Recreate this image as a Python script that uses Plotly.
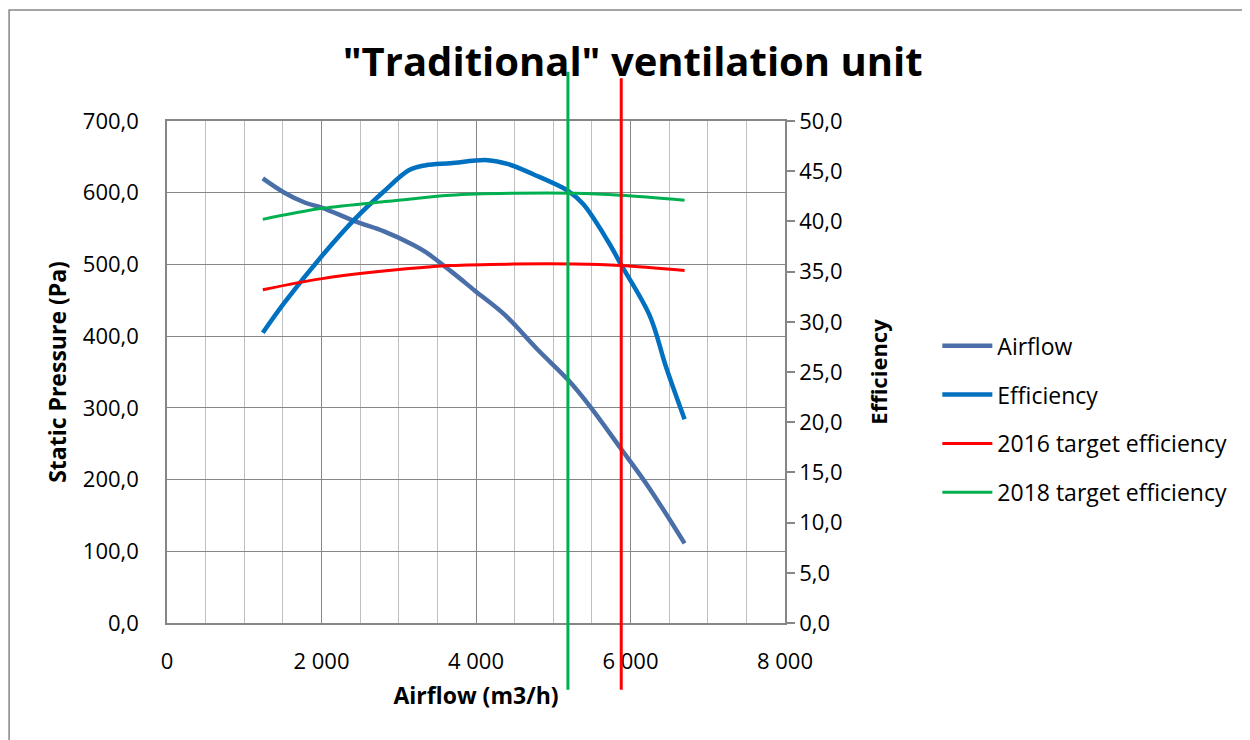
import plotly.graph_objects as go

# ---- data ----
airflow_x = [1240, 1520, 1790, 2010, 2440, 2810, 3190, 3350, 3670, 3990, 4370, 4800, 5200, 5490, 5870, 6250, 6700]
airflow_pressure = [620, 600, 586, 579, 560, 546, 527, 517, 491, 463, 430, 381, 338, 300, 244, 187, 111]

eff_x = [1240, 1520, 2010, 2440, 2810, 3130, 3350, 3670, 4150, 4420, 4740, 5200, 5390, 5710, 5870, 6250, 6460, 6700]
eff_values = [28.9, 31.9, 36.6, 40.3, 43.0, 45.1, 45.6, 45.8, 46.1, 45.7, 44.7, 43.0, 41.7, 38.0, 35.8, 30.6, 25.5, 20.3]

target_x = [1240, 2010, 2870, 3670, 4480, 5280, 5870, 6700]
target_2016 = [33.2, 34.3, 35.1, 35.6, 35.75, 35.75, 35.6, 35.1]
target_2018 = [40.2, 41.3, 42.0, 42.6, 42.8, 42.8, 42.6, 42.1]

vline_2018_x = 5190
vline_2016_x = 5880

x_ticks = [0, 2000, 4000, 6000, 8000]

FONT = "Open Sans"
GRID_DARK = "#868686"
GRID_LIGHT = "#bfbfbf"

fig = go.Figure()
fig.add_trace(go.Scatter(x=airflow_x, y=airflow_pressure, name="Airflow", mode="lines",
                         line=dict(color="#4a6fa8", width=4.5, shape="spline"),
                         legendgroup="a", yaxis="y"))
fig.add_trace(go.Scatter(x=eff_x, y=eff_values, name="Efficiency", mode="lines",
                         line=dict(color="#0070c0", width=4.5, shape="spline"),
                         legendgroup="b", yaxis="y2"))
fig.add_trace(go.Scatter(x=target_x, y=target_2016, name="2016 target efficiency", mode="lines",
                         line=dict(color="#ff0000", width=3, shape="spline"),
                         legendgroup="c", yaxis="y2"))
fig.add_trace(go.Scatter(x=target_x, y=target_2018, name="2018 target efficiency", mode="lines",
                         line=dict(color="#00b050", width=3, shape="spline"),
                         legendgroup="d", yaxis="y2"))

shapes = [
    dict(type="line", xref="x", yref="paper", x0=vline_2018_x, x1=vline_2018_x, y0=-0.133, y1=1.098,
         line=dict(color="#00b050", width=3)),
    dict(type="line", xref="x", yref="paper", x0=vline_2016_x, x1=vline_2016_x, y0=-0.133, y1=1.085,
         line=dict(color="#ff0000", width=3)),
    dict(type="rect", xref="paper", yref="paper", x0=-0.2555, x1=1.9, y0=-0.3, y1=1.2211,
         line=dict(color=GRID_DARK, width=1.5), layer="below"),
]

fig.update_layout(
    width=1242, height=732,
    margin=dict(l=159, r=465, t=113, b=117),
    paper_bgcolor="white", plot_bgcolor="white",
    separators=", ",
    font=dict(family=FONT, size=22, color="black"),
    title=dict(text='"Traditional" ventilation unit', x=0.503, xref="container", xanchor="center",
               y=0.926, yref="container", yanchor="middle",
               font=dict(family=FONT, size=40, color="black", weight="bold")),
    xaxis=dict(range=[0, 8000], tickvals=x_ticks, tickformat=",d",
               showgrid=True, gridcolor=GRID_DARK, gridwidth=1.3,
               minor=dict(dtick=500, showgrid=True, gridcolor=GRID_LIGHT, gridwidth=1.3),
               showline=True, linecolor=GRID_DARK, linewidth=1.5, mirror=True,
               ticks="outside", ticklen=18, tickcolor="rgba(0,0,0,0)",
               zeroline=False,
               title=dict(text="Airflow (m3/h)", standoff=14,
                          font=dict(family=FONT, size=23, weight="bold"))),
    yaxis=dict(range=[0, 700], dtick=100, tickformat=".1f",
               showgrid=True, gridcolor=GRID_DARK, gridwidth=1.3,
               showline=True, linecolor=GRID_DARK, linewidth=1.5,
               ticks="outside", ticklen=22, tickcolor="rgba(0,0,0,0)",
               zeroline=False,
               title=dict(text="Static Pressure (Pa)", standoff=10,
                          font=dict(family=FONT, size=23, weight="bold"))),
    yaxis2=dict(range=[0, 50], dtick=5, tickformat=".1f", overlaying="y", side="right",
                showgrid=False, showline=True, linecolor=GRID_DARK, linewidth=1.5,
                ticks="outside", ticklen=8, tickcolor=GRID_DARK, tickwidth=1.5,
                zeroline=False,
                title=dict(text="Efficiency", standoff=30,
                           font=dict(family=FONT, size=22, weight="bold"))),
    legend=dict(x=1.2465, y=0.406, xanchor="left", yanchor="middle",
                traceorder="grouped", tracegroupgap=16,
                font=dict(family=FONT, size=23), itemwidth=50,
                bgcolor="rgba(0,0,0,0)"),
    shapes=shapes,
)

fig.write_html("out.html")
